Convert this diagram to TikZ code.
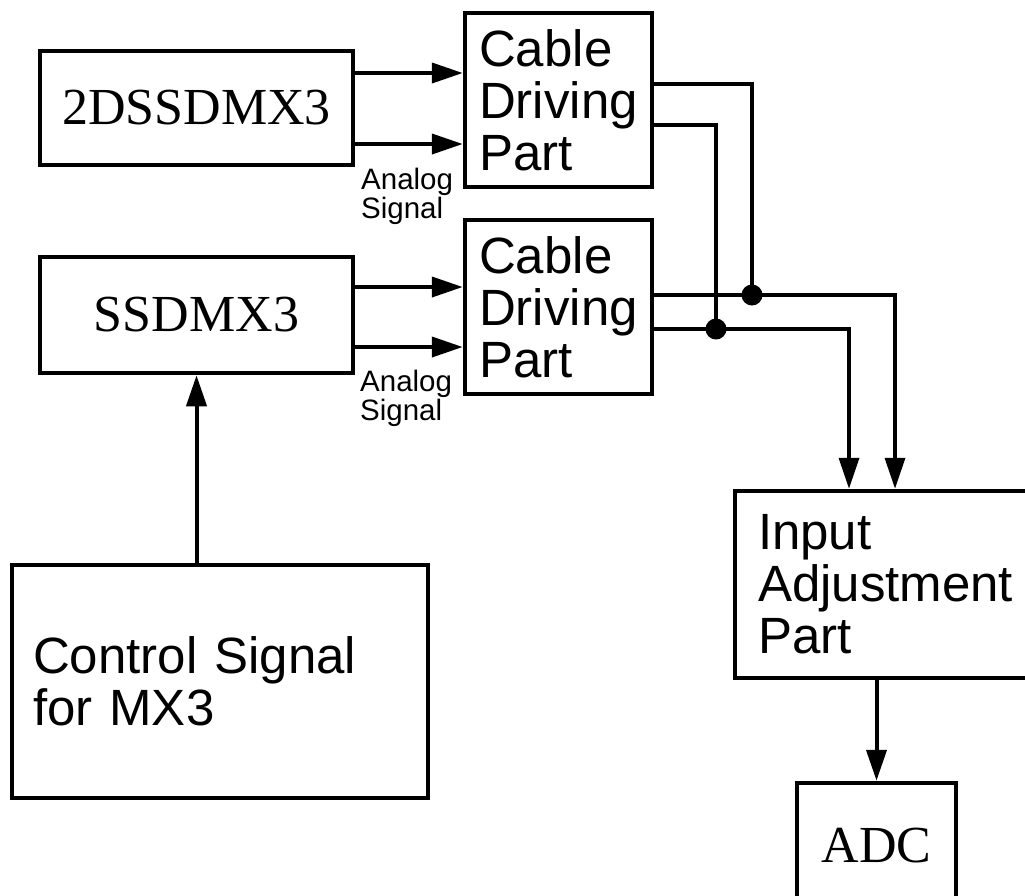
\documentclass[tikz,border=0pt]{standalone}
\usepackage{fontspec}
\setmainfont{Liberation Serif}
\setsansfont{Liberation Sans}
\usetikzlibrary{arrows.meta,positioning}

\begin{document}
\begin{tikzpicture}[
    x=1pt, y=-1pt,
    serifbox/.style={rectangle, draw, line width=4.5pt, inner sep=0pt, font=\rmfamily\fontsize{52}{54}\selectfont},
    sansbox/.style={rectangle, draw, line width=4.5pt, inner ysep=0pt, align=left, font=\sffamily\fontsize{51}{52}\selectfont},
    siglabel/.style={inner sep=0pt, anchor=north west, align=left, font=\sffamily\fontsize{29.5}{26}\selectfont},
    arr/.style={line width=4pt, -{Triangle[length=31pt,width=20pt]}},
    jdot/.style={circle, fill, inner sep=0pt, minimum size=21pt},
]
    \useasboundingbox (0,0) rectangle (1025,895);
    \clip (0,0) rectangle (1025,895);

    \node[serifbox, minimum width=313pt, minimum height=114pt] (twod) at (196.5,108) {2DSSDMX3};
    \node[serifbox, minimum width=313pt, minimum height=116pt] (ssd) at (196.5,315) {SSDMX3};
    \node[sansbox, minimum width=187pt, minimum height=174pt] (cabA) at (558.5,100) {Cable\\Driving\\Part};
    \node[sansbox, minimum width=187pt, minimum height=174pt] (cabB) at (558.5,307) {Cable\\Driving\\Part};
    \node[sansbox, inner xsep=21pt, text width=374pt, minimum height=233pt] (ctrl) at (220,681.5) {Control Signal\\for MX3};
    \node[sansbox, inner xsep=23pt, text width=264pt, minimum height=187pt] (inadj) at (890,584.5) {Input\\Adjustment\\Part};
    \node[serifbox, minimum width=159pt, minimum height=126pt] (adc) at (876.5,846) {ADC};

    \node[siglabel] (sigA) at (361,168) {Analog\\Signal};
    \node[siglabel] (sigB) at (360,370) {Analog\\Signal};

    \node[jdot] (dotA) at (752,295) {};
    \node[jdot] (dotB) at (716,329) {};

    % analog signals into the cable driving parts
    \draw[arr] ([yshift=35pt]twod.east) -- ([yshift=35pt]twod.east -| cabA.west);
    \draw[arr] ([yshift=-36pt]twod.east) -- ([yshift=-36pt]twod.east -| cabA.west);
    \draw[arr] ([yshift=28pt]ssd.east) -- ([yshift=28pt]ssd.east -| cabB.west);
    \draw[arr] ([yshift=-32pt]ssd.east) -- ([yshift=-32pt]ssd.east -| cabB.west);

    % cable outputs
    \draw[line width=3.5pt] ([yshift=16pt]cabA.east) -| (dotA.center);
    \draw[line width=3.5pt] ([yshift=-25pt]cabA.east) -| (dotB.center);
    \draw[arr, line width=3.5pt] ([yshift=12pt]cabB.east) -| ([xshift=5pt]inadj.north);
    \draw[arr, line width=3.5pt] ([yshift=-22pt]cabB.east) -| ([xshift=-41pt]inadj.north);

    \draw[arr] (ssd.south |- ctrl.north) -- (ssd.south);
    \draw[arr] (adc.north |- inadj.south) -- (adc.north);
\end{tikzpicture}
\end{document}
